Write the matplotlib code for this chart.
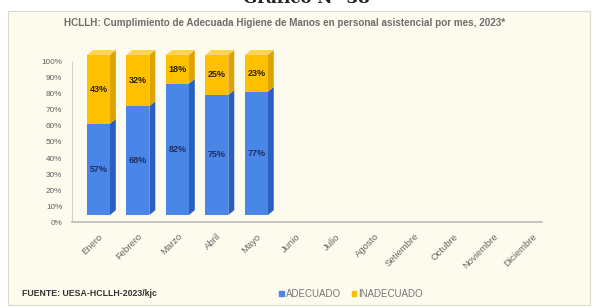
import matplotlib.pyplot as plt
import matplotlib.patches as mpatches
import matplotlib.transforms as mtrans
import numpy as np

meses = ["Enero", "Febrero", "Marzo", "Abril", "Mayo", "Junio", "Julio",
         "Agosto", "Setiembre", "Octubre", "Noviembre", "Diciembre"]
adecuado = [57, 68, 82, 75, 77]
inadecuado = [43, 32, 18, 25, 23]
yticks = list(range(0, 101, 10))

plt.rcParams["font.family"] = ["Liberation Sans", "DejaVu Sans"]

azul, azul_lado = "#4A86E8", "#2B5FBF"
amar, amar_lado, amar_tapa = "#FFC000", "#DDA300", "#FFD34D"

fig = plt.figure(figsize=(5.97, 3.08), dpi=100)
fig.patch.set_facecolor("white")

# marco crema del grafico
marco = mpatches.Rectangle((0.014, 0.01), 0.974, 0.955, transform=fig.transFigure,
                           facecolor="#FDFAEE", edgecolor="#DEDACB", lw=0.8, zorder=-5)
fig.patches.append(marco)

fig.text(0.513, 0.99, "Gráfico N° 38", ha="center", va="baseline",
         fontsize=12, fontweight="bold", family="DejaVu Serif", color="#222222")
fig.text(0.476, 0.925, "HCLLH: Cumplimiento de Adecuada Higiene de Manos en personal asistencial por mes, 2023*",
         ha="center", va="center", fontsize=7.1, fontweight="bold", color="#6E6E6E")

ax = fig.add_axes([0.1206, 0.279, 0.787, 0.52])
ax.set_facecolor("none")

x = np.arange(len(adecuado))
w = 0.58
dx, dy = 0.15, 3.0   # profundidad 3D
base = 4.4           # desplazamiento de la cara frontal

ad = np.array(adecuado)
ina = np.array(inadecuado)

# caras frontales
ax.bar(x, ad, w, bottom=base, color=azul, zorder=2, clip_on=False)
ax.bar(x, ina, w, bottom=base + ad, color=amar, zorder=2, clip_on=False)

# caras laterales y superiores
for xi, a, i in zip(x, ad, ina):
    xr = xi + w / 2
    xl = xi - w / 2
    for y0, y1, c in [(base, base + a, azul_lado), (base + a, base + a + i, amar_lado)]:
        ax.fill([xr, xr + dx, xr + dx, xr], [y0, y0 + dy, y1 + dy, y1],
                color=c, zorder=1.8, clip_on=False, lw=0)
    top = base + a + i
    ax.fill([xl, xl + dx, xr + dx, xr], [top, top + dy, top + dy, top],
            color=amar_tapa, zorder=1.9, clip_on=False, lw=0)
    ax.text(xi, base + a / 2, f"{a}%", ha="center", va="center", fontsize=6.5,
            fontweight="bold", color="#1C2F66", zorder=3)
    ax.text(xi, base + a + i / 2, f"{i}%", ha="center", va="center", fontsize=6.5,
            fontweight="bold", color="#2A2200", zorder=3)

ax.set_xlim(-0.67, 11.23)
ax.set_ylim(0, 100)
ax.set_yticks(yticks)
ax.set_yticklabels([f"{t}%" for t in yticks], fontsize=5.9, color="#5E5E5E")
ax.set_xticks(np.arange(len(meses)))
ax.set_xticklabels(meses, rotation=45, ha="right", rotation_mode="anchor",
                   fontsize=6.8, color="#666666")
desplaza = mtrans.ScaledTranslation(-5 / 100, 0, fig.dpi_scale_trans)
for lbl in ax.get_xticklabels():
    lbl.set_transform(lbl.get_transform() + desplaza)
ax.tick_params(axis="y", length=0, pad=7)
ax.tick_params(axis="x", length=0, pad=7)
for s in ["top", "right"]:
    ax.spines[s].set_visible(False)
ax.spines["left"].set_color("#D0D0D0")
ax.spines["bottom"].set_color("#BBBBBB")
ax.spines["bottom"].set_linewidth(1.2)

fig.text(0.037, 0.048, "FUENTE: UESA-HCLLH-2023/kjc", fontsize=6.3, fontweight="bold",
         color="#333333", va="center")
h1 = mpatches.Patch(color=azul, label="ADECUADO")
h2 = mpatches.Patch(color=amar, label="INADECUADO")
fig.legend(handles=[h1, h2], loc="center", bbox_to_anchor=(0.588, 0.046), ncol=2,
           frameon=False, fontsize=7, labelcolor="#777777", handlelength=0.45,
           handleheight=0.45, handletextpad=0.2, columnspacing=1.1)

fig.savefig("out.png", dpi=100)
